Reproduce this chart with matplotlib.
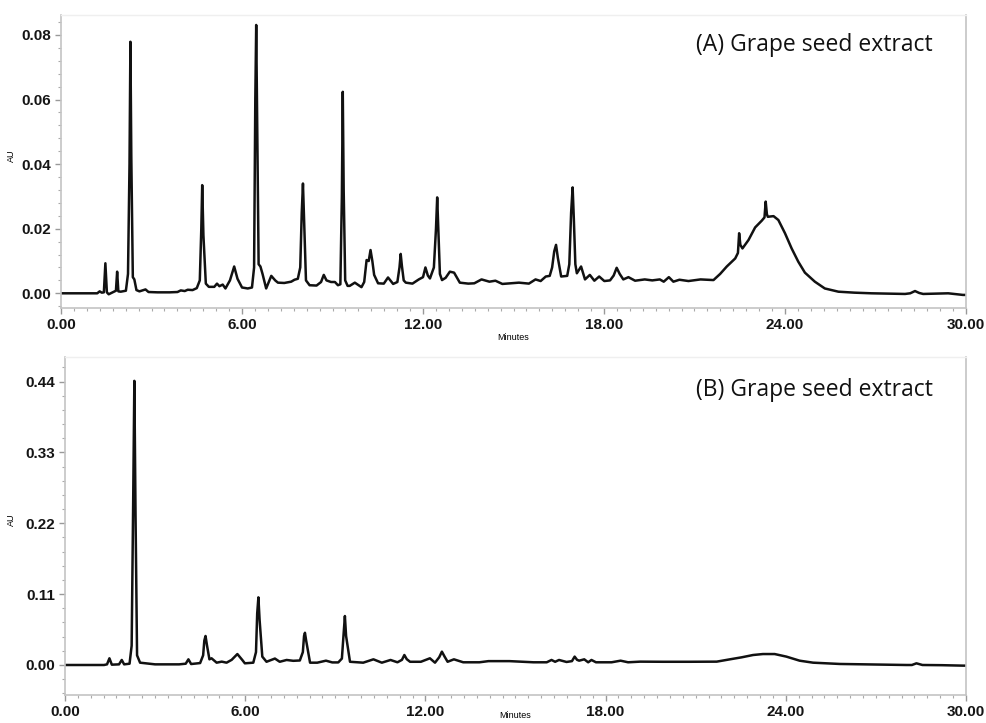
import numpy as np
import matplotlib.pyplot as plt
from matplotlib.ticker import MultipleLocator, FormatStrFormatter

# (A) chromatogram, retention time (min) and absorbance (AU)
time_a = [0.00, 1.20, 1.28, 1.35, 1.42, 1.47, 1.52, 1.58, 1.75, 1.82, 1.86, 1.90, 1.98,
          2.15, 2.22, 2.27, 2.30, 2.33, 2.38, 2.43, 2.50, 2.60, 2.80, 2.90, 3.20,
          3.60, 3.86, 3.97, 4.10, 4.20, 4.36, 4.50, 4.60, 4.65, 4.68, 4.72, 4.80,
          4.90, 5.08, 5.17, 5.25, 5.36, 5.45, 5.60, 5.74, 5.85, 6.00, 6.19, 6.33,
          6.40, 6.44, 6.47, 6.50, 6.55, 6.61, 6.68, 6.80, 6.97, 7.10, 7.19, 7.40,
          7.63, 7.74, 7.85, 7.93, 7.98, 8.02, 8.06, 8.12, 8.24, 8.47, 8.62, 8.71,
          8.80, 8.95, 9.08, 9.18, 9.26, 9.31, 9.34, 9.37, 9.42, 9.50, 9.57, 9.74,
          9.96, 10.05, 10.13, 10.20, 10.26, 10.32, 10.38, 10.51, 10.70, 10.84, 11.01, 11.15,
          11.22, 11.26, 11.30, 11.36, 11.43, 11.65, 11.86, 12.00, 12.08, 12.16, 12.23, 12.36,
          12.43, 12.47, 12.51, 12.56, 12.63, 12.75, 12.89, 13.03, 13.22, 13.50, 13.70, 13.94,
          14.20, 14.40, 14.63, 15.18, 15.51, 15.73, 15.90, 16.07, 16.20, 16.28, 16.35, 16.41,
          16.47, 16.58, 16.78, 16.85, 16.91, 16.96, 17.00, 17.05, 17.10, 17.24, 17.37, 17.53,
          17.68, 17.84, 18.01, 18.20, 18.32, 18.42, 18.52, 18.64, 18.81, 19.03, 19.35, 19.60,
          19.85, 19.98, 20.15, 20.30, 20.50, 20.80, 21.20, 21.63, 21.85, 22.07, 22.35, 22.44,
          22.48, 22.52, 22.59, 22.79, 23.01, 23.23, 23.32, 23.36, 23.40, 23.43, 23.62, 23.78,
          24.00, 24.22, 24.44, 24.66, 24.99, 25.32, 25.77, 26.30, 26.87, 27.50, 27.98, 28.15,
          28.31, 28.45, 28.58, 29.00, 29.41, 29.90, 30.00]
abs_a = [0.0000, 0.0000, 0.0006, 0.0002, 0.0003, 0.0093, 0.0003, -0.0003, 0.0005, 0.0008, 0.0067, 0.0006, 0.0005,
         0.0008, 0.0060, 0.0400, 0.0779, 0.0420, 0.0050, 0.0043, 0.0010, 0.0006, 0.0012, 0.0004, 0.0003,
         0.0003, 0.0004, 0.0009, 0.0007, 0.0011, 0.0010, 0.0016, 0.0040, 0.0200, 0.0335, 0.0180, 0.0030,
         0.0020, 0.0020, 0.0030, 0.0022, 0.0027, 0.0015, 0.0040, 0.0083, 0.0045, 0.0018, 0.0015, 0.0018,
         0.0080, 0.0600, 0.0831, 0.0550, 0.0090, 0.0083, 0.0060, 0.0015, 0.0054, 0.0040, 0.0033, 0.0032,
         0.0036, 0.0042, 0.0045, 0.0080, 0.0250, 0.0340, 0.0220, 0.0040, 0.0025, 0.0024, 0.0035, 0.0057,
         0.0040, 0.0035, 0.0035, 0.0025, 0.0028, 0.0300, 0.0624, 0.0320, 0.0040, 0.0023, 0.0023, 0.0033,
         0.0019, 0.0035, 0.0103, 0.0100, 0.0134, 0.0100, 0.0057, 0.0031, 0.0030, 0.0049, 0.0029, 0.0035,
         0.0080, 0.0122, 0.0085, 0.0040, 0.0033, 0.0030, 0.0043, 0.0050, 0.0080, 0.0055, 0.0046, 0.0080,
         0.0200, 0.0297, 0.0190, 0.0060, 0.0041, 0.0048, 0.0067, 0.0064, 0.0033, 0.0030, 0.0031, 0.0043,
         0.0036, 0.0039, 0.0029, 0.0033, 0.0030, 0.0043, 0.0038, 0.0052, 0.0054, 0.0080, 0.0130, 0.0150,
         0.0110, 0.0052, 0.0054, 0.0090, 0.0250, 0.0328, 0.0230, 0.0090, 0.0062, 0.0083, 0.0043, 0.0057,
         0.0039, 0.0052, 0.0038, 0.0040, 0.0055, 0.0079, 0.0060, 0.0043, 0.0050, 0.0039, 0.0043, 0.0040,
         0.0043, 0.0036, 0.0050, 0.0036, 0.0042, 0.0038, 0.0043, 0.0041, 0.0060, 0.0083, 0.0108, 0.0125,
         0.0186, 0.0150, 0.0139, 0.0165, 0.0204, 0.0225, 0.0235, 0.0284, 0.0245, 0.0237, 0.0239, 0.0227,
         0.0186, 0.0139, 0.0098, 0.0064, 0.0036, 0.0015, 0.0005, 0.0002, 0.0000, -0.0001, -0.0002, 0.0000,
         0.0007, 0.0001, -0.0002, -0.0001, 0.0000, -0.0005, -0.0005]

# (B) chromatogram
time_b = [0.00, 1.30, 1.40, 1.48, 1.56, 1.80, 1.89, 1.97, 2.15, 2.22, 2.27, 2.31, 2.35,
          2.40, 2.50, 3.00, 3.80, 4.02, 4.11, 4.20, 4.50, 4.60, 4.64, 4.68, 4.73,
          4.81, 4.88, 5.05, 5.22, 5.38, 5.55, 5.74, 5.90, 5.99, 6.27, 6.36, 6.40,
          6.44, 6.48, 6.57, 6.71, 6.99, 7.15, 7.38, 7.60, 7.82, 7.92, 7.96, 7.99,
          8.03, 8.16, 8.40, 8.69, 8.90, 9.10, 9.22, 9.28, 9.32, 9.36, 9.49, 9.93,
          10.27, 10.55, 10.84, 11.07, 11.22, 11.30, 11.38, 11.49, 11.85, 12.15, 12.32, 12.46,
          12.55, 12.64, 12.74, 12.95, 13.26, 13.80, 14.10, 14.80, 15.60, 16.04, 16.20, 16.32,
          16.45, 16.70, 16.88, 16.97, 17.05, 17.12, 17.29, 17.42, 17.53, 17.68, 18.20, 18.50,
          18.75, 19.15, 19.90, 20.80, 21.70, 22.14, 22.53, 22.91, 23.24, 23.63, 24.02, 24.46,
          24.91, 25.80, 26.91, 28.02, 28.20, 28.35, 28.55, 29.20, 29.90, 30.00]
abs_b = [0.0000, 0.0000, 0.0010, 0.0104, 0.0005, 0.0010, 0.0078, 0.0010, 0.0020, 0.0300, 0.2500, 0.4410, 0.2300,
         0.0150, 0.0036, 0.0010, 0.0010, 0.0020, 0.0088, 0.0015, 0.0030, 0.0150, 0.0380, 0.0450, 0.0300,
         0.0088, 0.0104, 0.0036, 0.0052, 0.0036, 0.0080, 0.0170, 0.0080, 0.0026, 0.0036, 0.0200, 0.0800,
         0.1050, 0.0700, 0.0130, 0.0050, 0.0100, 0.0050, 0.0078, 0.0065, 0.0070, 0.0200, 0.0450, 0.0500,
         0.0380, 0.0036, 0.0036, 0.0067, 0.0040, 0.0040, 0.0100, 0.0500, 0.0760, 0.0450, 0.0050, 0.0036,
         0.0088, 0.0036, 0.0078, 0.0042, 0.0080, 0.0155, 0.0090, 0.0050, 0.0050, 0.0104, 0.0036, 0.0120,
         0.0207, 0.0130, 0.0050, 0.0088, 0.0042, 0.0042, 0.0060, 0.0060, 0.0042, 0.0042, 0.0078, 0.0050,
         0.0078, 0.0047, 0.0060, 0.0130, 0.0080, 0.0067, 0.0088, 0.0042, 0.0078, 0.0042, 0.0042, 0.0067,
         0.0042, 0.0052, 0.0050, 0.0050, 0.0052, 0.0088, 0.0119, 0.0155, 0.0170, 0.0170, 0.0130, 0.0067,
         0.0036, 0.0016, 0.0008, 0.0000, 0.0000, 0.0026, 0.0000, -0.0003, -0.0010, -0.0010]

x_major = [0, 6, 12, 18, 24, 30]
labels = ['(A) Grape seed extract', '(B) Grape seed extract']

fig = plt.figure(figsize=(9.86, 7.23), dpi=100)
ax1 = fig.add_axes([0.0619, 0.574, 0.9178, 0.4053])
ax2 = fig.add_axes([0.0659, 0.0387, 0.9138, 0.4675])

spine_col = '#c4c4c4'
tick_font = {'family': 'Liberation Sans', 'weight': 'bold', 'size': 11}

for ax, t, a, ylim, ymaj, ymin, lab, lx, ty, xl_y in [
        (ax1, time_a, abs_a, (-0.00455, 0.0862), 0.02, 0.004, labels[0], -0.05, 0.898, -0.085),
        (ax2, time_b, abs_b, (-0.0466, 0.478), 0.11, 0.022, labels[1], -0.054, 0.902, -0.047)]:
    ax.plot(t, a, color='#111111', lw=1.8, solid_joinstyle='round')
    ax.set_xlim(0, 30)
    ax.set_ylim(*ylim)
    ax.set_xticks(x_major)
    ax.xaxis.set_minor_locator(MultipleLocator(6 / 14))
    ax.yaxis.set_major_locator(MultipleLocator(ymaj))
    ax.yaxis.set_minor_locator(MultipleLocator(ymin))
    ax.xaxis.set_major_formatter(FormatStrFormatter('%.2f'))
    ax.yaxis.set_major_formatter(FormatStrFormatter('%.2f'))
    for s in ['left', 'bottom', 'right']:
        ax.spines[s].set_color(spine_col)
        ax.spines[s].set_linewidth(1.2)
    ax.spines['top'].set_color('#efefef')
    ax.spines['top'].set_linewidth(1.0)
    ax.tick_params(which='major', length=4, width=1, color='#999999', pad=3)
    ax.tick_params(which='minor', length=2.5, width=0.8, color='#aaaaaa')
    for tl in ax.get_xticklabels() + ax.get_yticklabels():
        tl.set_fontproperties(tick_font)
        tl.set_color('#151515')
    ax.set_xlabel('Minutes', fontsize=6.5, family='Liberation Sans')
    ax.xaxis.set_label_coords(0.5, xl_y)
    ax.set_ylabel('AU', fontsize=6.5, family='Liberation Sans')
    ax.yaxis.set_label_coords(lx, 0.52)
    ax.text(0.9635, ty, lab, transform=ax.transAxes, ha='right', va='center',
            fontsize=16.5, family='Open Sans', color='#111111')

fig.savefig('out.png', dpi=100)
